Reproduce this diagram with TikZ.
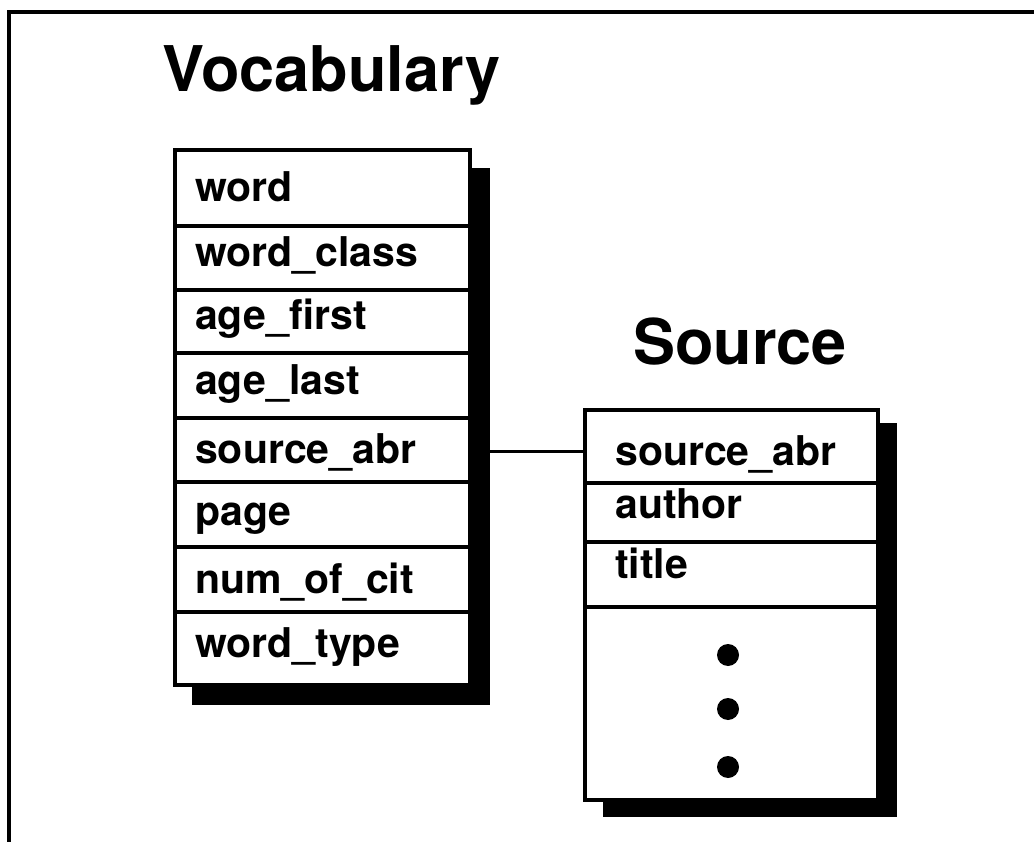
\documentclass[tikz,border=0pt]{standalone}
\usepackage{fontspec}
\setmainfont{TeX Gyre Heros}
\newcommand{\fieldfont}{\fontsize{41}{41}\selectfont\bfseries}
\newcommand{\headfont}{\fontsize{63}{63}\selectfont\bfseries}
\begin{document}
\begin{tikzpicture}[x=1pt,y=-1pt,
  tbl/.style={rectangle, draw=black, fill=white, line width=3.5pt,
    inner sep=0pt, outer sep=0pt, anchor=north west},
  shadowbox/.style={rectangle, fill=black, inner sep=0pt, outer sep=0pt,
    anchor=north west},
  field/.style={anchor=base west, inner sep=0pt, font=\fieldfont},
  heading/.style={anchor=base west, inner sep=0pt, font=\headfont},
  rowrule/.style={line width=3.5pt},
  link/.style={line width=3pt}]
\useasboundingbox (0,0) rectangle (1034,842);

% page frame (top and left edges)
\draw[line width=3.5pt] (9,842) -- (9,12) -- (1034,12);

% ---- Vocabulary table ----
\node[heading] (vtitle) at (162,92) {Vocabulary};
\node[shadowbox, minimum width=298pt, minimum height=537pt] (vocsh) at (192,168) {};
\node[tbl, minimum width=295pt, minimum height=535pt] (voc) at (175,150) {};
\foreach \y in {226,290,353,418,482,547,612}
  \draw[rowrule] (175,\y) -- (470,\y);
\node[field] (v1) at (195,202) {word};
\node[field] (v2) at (195,267) {word\_class};
\node[field] (v3) at (195,330) {age\_first};
\node[field] (v4) at (195,395) {age\_last};
\node[field] (v5) at (195,463) {source\_abr};
\node[field] (v6) at (195,525) {page};
\node[field] (v7) at (195,593) {num\_of\_cit};
\node[field] (v8) at (195,657) {word\_type};

% ---- Source table ----
\node[heading] (stitle) at (633,365) {Source};
\node[shadowbox, minimum width=294pt, minimum height=394pt] (srcsh) at (603,423) {};
\node[tbl, minimum width=293pt, minimum height=390pt] (src) at (585,410) {};
\foreach \y in {483,542,607}
  \draw[rowrule] (585,\y) -- (878,\y);
\node[field] (s1) at (615,465) {source\_abr};
\node[field] (s2) at (615,518) {author};
\node[field] (s3) at (615,578) {title};
\foreach \y in {655,709,767}
  \fill (728,\y) circle (11);

% link between the two source_abr fields
\coordinate (lk) at (0,451);
\draw[link] (vocsh.east |- lk) -- (src.west |- lk);
\end{tikzpicture}
\end{document}
